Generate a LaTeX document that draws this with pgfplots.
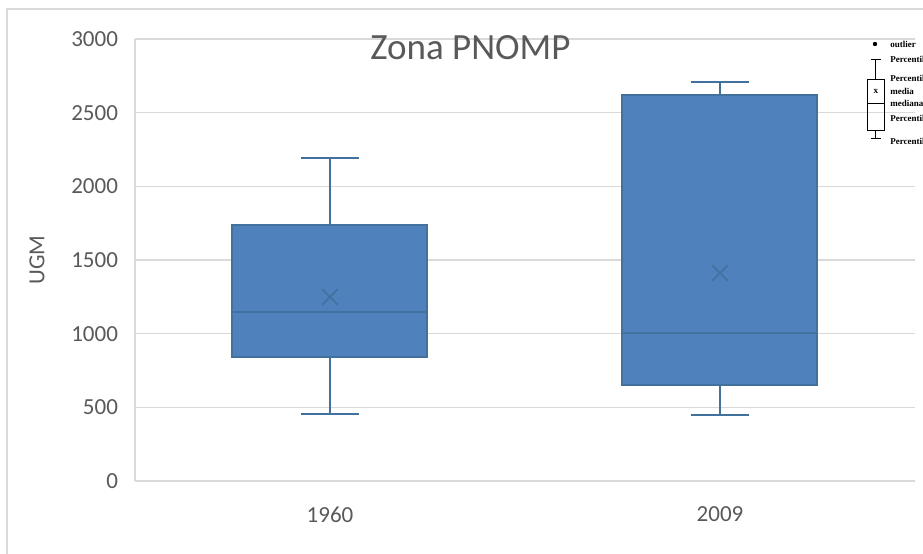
\documentclass[border=0pt]{standalone}
\usepackage{fontspec}
\setmainfont{Carlito}
\newfontfamily\legfont{Liberation Serif}
\usepackage{pgfplots}
\pgfplotsset{compat=1.18}

\definecolor{boxfill}{RGB}{79,129,189}
\definecolor{boxedge}{RGB}{65,113,156}
\definecolor{txt}{RGB}{89,89,89}
\definecolor{gridc}{RGB}{217,217,217}

\begin{document}
\begin{tikzpicture}
% outer chart frame (cropped by the page)
\draw[gridc, line width=0.6pt] (-64pt,-60pt) rectangle (420pt,236pt);
\begin{axis}[
    at={(0,0)}, anchor=south west,
    scale only axis, width=390pt, height=221pt,
    xmin=0.5, xmax=2.5, ymin=0, ymax=3000,
    xtick={1,2}, xticklabels={1960,2009},
    ytick={0,500,...,3000},
    /pgf/number format/assume math mode=true,
    /pgf/number format/1000 sep={},
    axis x line*=bottom, axis y line*=left,
    axis line style={gridc, line width=0.8pt},
    major tick length=0pt,
    ymajorgrids, grid style={gridc, line width=0.8pt},
    tick label style={font=\fontsize{11.5}{13}\selectfont, text=txt},
    yticklabel style={xshift=-5pt},
    xticklabel style={yshift=-9.5pt},
    ylabel={UGM},
    ylabel style={font=\fontsize{11.5}{13}\selectfont, text=txt,
        at={(axis description cs:-0.1256,0.5)}, anchor=center},
    clip=false,
]
% 1960: whiskers 455-2190, quartiles 842-1738, median 1147
\addplot[boxedge, line width=1pt] coordinates {(1,1738) (1,2190)};
\addplot[boxedge, line width=1pt] coordinates {(0.925,2190) (1.075,2190)};
\addplot[boxedge, line width=1pt] coordinates {(1,842) (1,455)};
\addplot[boxedge, line width=1pt] coordinates {(0.925,455) (1.075,455)};
\addplot[fill=boxfill, draw=boxedge, line width=1pt] coordinates {(0.75,842) (1.25,842) (1.25,1738) (0.75,1738)} -- cycle;
\addplot[boxedge, line width=1pt] coordinates {(0.75,1147) (1.25,1147)};
% 2009: whiskers 448-2709, quartiles 652-2620, median 1005
\addplot[boxedge, line width=1pt] coordinates {(2,2620) (2,2709)};
\addplot[boxedge, line width=1pt] coordinates {(1.925,2709) (2.075,2709)};
\addplot[boxedge, line width=1pt] coordinates {(2,652) (2,448)};
\addplot[boxedge, line width=1pt] coordinates {(1.925,448) (2.075,448)};
\addplot[fill=boxfill, draw=boxedge, line width=1pt] coordinates {(1.75,652) (2.25,652) (2.25,2620) (1.75,2620)} -- cycle;
\addplot[boxedge, line width=1pt] coordinates {(1.75,1005) (2.25,1005)};
% means
\addplot[only marks, mark=x, mark size=5.5pt, mark options={boxedge, line width=0.8pt}]
    coordinates {(1,1249) (2,1412)};
\node[font=\fontsize{18.5}{20}\selectfont, text=txt] at (axis cs:1.36,2940) {Zona PNOMP};
\end{axis}
% legend (cropped at the right edge as in the reference)
\begin{scope}[black, line width=0.5pt]
\fill (370pt,218.5pt) circle (1.1pt);
\draw (367.8pt,210.8pt) -- (373pt,210.8pt);
\draw (370.4pt,210.8pt) -- (370.4pt,200.8pt);
\draw (366.3pt,175pt) rectangle (374.5pt,200.8pt);
\draw (366.3pt,188.5pt) -- (374.5pt,188.5pt);
\draw (370.4pt,175pt) -- (370.4pt,171pt);
\draw (367.8pt,171pt) -- (373pt,171pt);
\node[font=\legfont\bfseries\fontsize{4.5}{4.5}\selectfont] at (370.4pt,195pt) {x};
\end{scope}
\begin{scope}[font=\legfont\bfseries\fontsize{4.5}{4.5}\selectfont, inner sep=0pt]
\node[anchor=west] at (377.5pt,218.5pt) {outlier};
\node[anchor=west] at (377.5pt,210.8pt) {Percentil 90};
\node[anchor=west] at (377.5pt,201.5pt) {Percentil 75};
\node[anchor=west] at (377.5pt,195pt) {media};
\node[anchor=west] at (377.5pt,189pt) {mediana};
\node[anchor=west] at (377.5pt,181.5pt) {Percentil 25};
\node[anchor=west] at (377.5pt,170pt) {Percentil 10};
\end{scope}
\pgfresetboundingbox
\useasboundingbox (-67.5pt,-36pt) rectangle (394pt,240.5pt);
\end{tikzpicture}
\end{document}
